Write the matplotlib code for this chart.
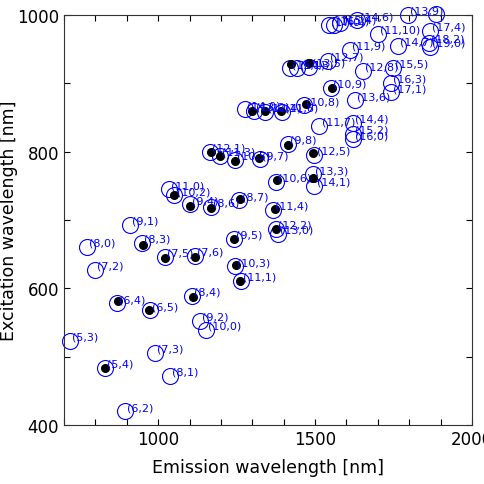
import numpy as np
import matplotlib
matplotlib.use("Agg")
import matplotlib.pyplot as plt
from matplotlib.ticker import MultipleLocator, FixedLocator

# calculated (n,m) positions: emission (E11) and excitation (E22) wavelengths [nm]
calc_labels = ["(5,3)", "(5,4)", "(6,2)", "(7,3)", "(8,1)", "(6,4)", "(6,5)", "(8,4)",
               "(9,2)", "(10,0)", "(8,0)", "(7,2)", "(9,1)", "(8,3)", "(7,5)", "(7,6)",
               "(11,0)", "(10,2)", "(9,4)", "(8,6)", "(8,7)", "(9,5)", "(10,3)", "(11,1)",
               "(11,4)", "(12,2)", "(13,0)", "(10,6)", "(13,3)", "(14,1)", "(12,5)", "(9,8)",
               "(11,7)", "(14,4)", "(15,2)", "(16,0)", "(12,1)", "(11,3)", "(10,5)", "(9,7)",
               "(14,0)", "(13,2)", "(12,4)", "(11,6)", "(10,8)", "(10,9)", "(11,9)", "(12,7)",
               "(12,8)", "(15,5)", "(16,3)", "(17,1)", "(13,6)", "(11,10)", "(17,4)", "(14,7)",
               "(18,2)", "(19,0)", "(13,9)", "(17,0)", "(16,2)", "(15,4)", "(14,6)",
               "(15,1)", "(14,3)", "(13,5)"]
calc_em = [718, 831, 893, 989, 1038, 868, 975, 1107,
           1132, 1153, 772, 800, 909, 949, 1021, 1117,
           1034, 1052, 1100, 1167, 1259, 1241, 1246, 1265,
           1366, 1376, 1381, 1376, 1493, 1498, 1498, 1413,
           1514, 1620, 1620, 1622, 1164, 1196, 1246, 1323,
           1278, 1304, 1342, 1396, 1466, 1552, 1611, 1540,
           1652, 1748, 1743, 1743, 1626, 1700, 1865, 1764,
           1863, 1865, 1796, 1543, 1559, 1581, 1635,
           1419, 1444, 1482]
calc_ex = [523, 484, 420, 506, 472, 578, 568, 589,
           552, 539, 661, 627, 693, 667, 646, 648,
           745, 736, 723, 719, 729, 672, 632, 611,
           715, 687, 680, 756, 767, 750, 795, 811,
           838, 842, 826, 818, 800, 794, 788, 789,
           862, 860, 858, 858, 868, 893, 949, 933,
           918, 923, 901, 887, 875, 972, 977, 955,
           959, 953, 1000, 985, 986, 988, 992,
           922, 922, 924]

# circle at the top edge whose label is not shown
extra_em = [1884]
extra_ex = [1001]

# measured positions (black dots)
meas_em = [831, 871, 972, 951, 1022, 1119, 1110, 1052, 1100, 1167, 1262, 1241,
           1249, 1260, 1371, 1374, 1378, 1493, 1493, 1413, 1169, 1196, 1246, 1321,
           1300, 1339, 1393, 1472, 1553, 1422, 1482]
meas_ex = [484, 582, 569, 664, 645, 646, 588, 736, 721, 718, 731, 672,
           634, 611, 716, 687, 758, 761, 798, 810, 799, 794, 787, 791,
           860, 860, 860, 870, 893, 928, 930]

fig = plt.figure(figsize=(4.84, 4.85), dpi=100)
ax = fig.add_axes([0.1322, 0.1216, 0.8430, 0.8454])

ax.plot(calc_em + extra_em, calc_ex + extra_ex, 'o', mfc='none', mec='b',
        ms=11.5, mew=0.8, clip_on=False)
ax.plot(meas_em, meas_ex, 'o', color='k', ms=5.5, clip_on=False)

for lbl, x, y in zip(calc_labels, calc_em, calc_ex):
    ax.annotate(lbl, (x, y), xytext=(1.5, 3), textcoords='offset points',
                ha='left', va='center', fontsize=8, color='b')

ax.set_xlim(700, 2000)
ax.set_ylim(400, 1000)
ax.xaxis.set_major_locator(FixedLocator([1000, 1500, 2000]))
ax.xaxis.set_minor_locator(MultipleLocator(100))
ax.yaxis.set_major_locator(MultipleLocator(200))
ax.yaxis.set_minor_locator(MultipleLocator(100))
ax.tick_params(which='both', direction='in', top=True, right=True, length=4.5,
               width=0.8, labelsize=12)
for s in ax.spines.values():
    s.set_linewidth(0.8)
    s.set_color('#333333')

ax.set_xlabel("Emission wavelength [nm]", fontsize=12.5, labelpad=7)
ax.set_ylabel("Excitation wavelength [nm]", fontsize=12.5, labelpad=-1)

fig.savefig("out.png", dpi=100)
